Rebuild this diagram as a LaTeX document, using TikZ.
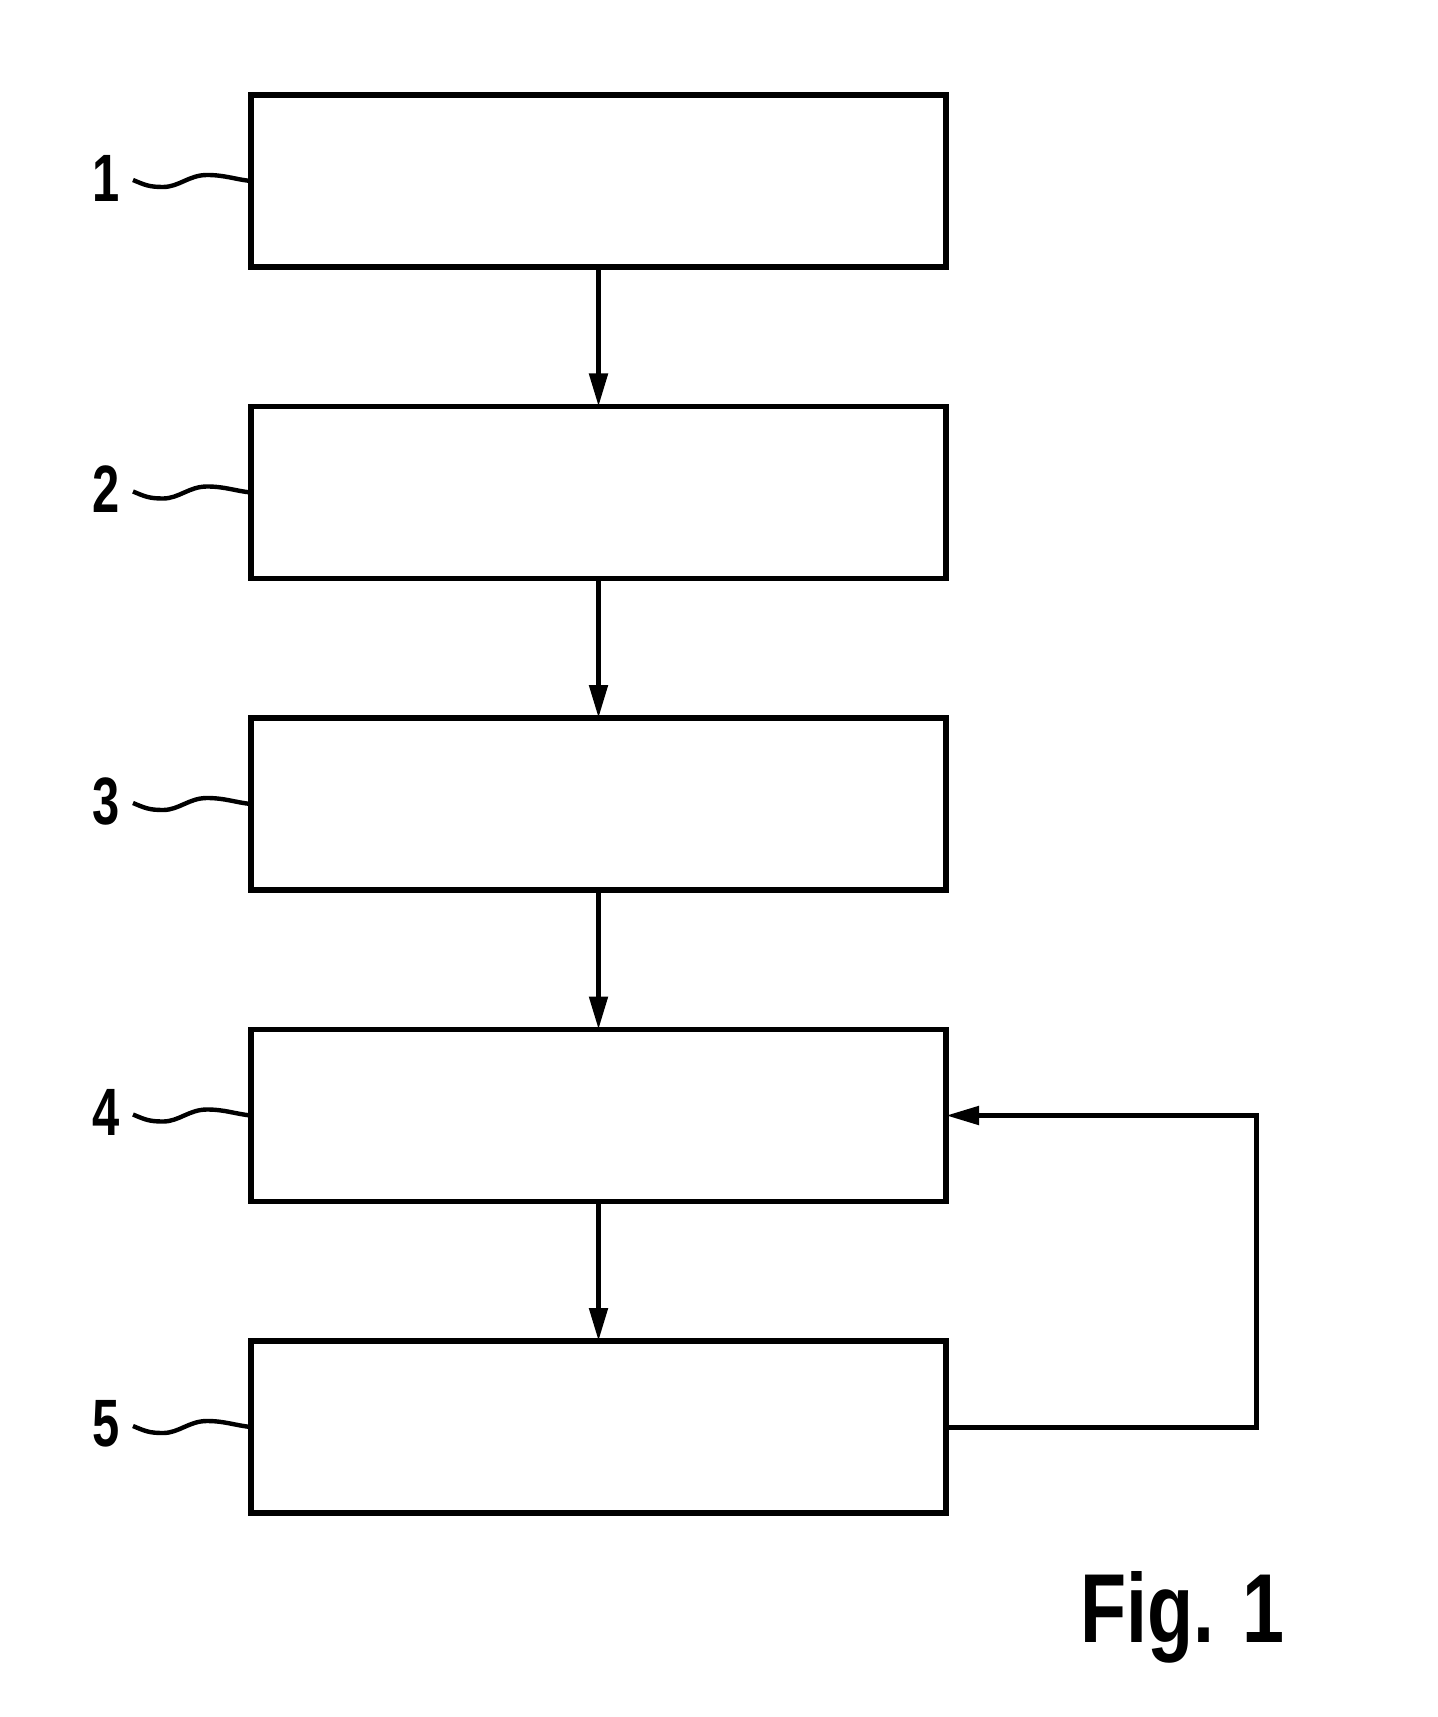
\documentclass[tikz,border=0pt]{standalone}
\usepackage{fontspec}
\setmainfont{Liberation Sans}
\usetikzlibrary{arrows.meta,positioning}

\begin{document}
\begin{tikzpicture}[
	stepbox/.style={
		draw, line width=2.6pt, minimum width=347.5pt, minimum height=86pt,
		outer sep=0pt, inner sep=0pt
	},
	flow/.style={
		line width=2.5pt, -{Triangle[length=16.5pt,width=9pt]}
	},
	lead/.style={line width=2.2pt},
	num/.style={
		anchor=east, inner sep=0pt, font=\bfseries\fontsize{33.5}{33.5}\selectfont
	}
	]
	\useasboundingbox (0,0) rectangle (718.5pt,-858.5pt);

	\node[stepbox] (b1) at (299.25pt,-90.5pt) {};
	\node[stepbox,below=69.75pt of b1] (b2) {};
	\node[stepbox,below=69.75pt of b2] (b3) {};
	\node[stepbox,below=69.75pt of b3] (b4) {};
	\node[stepbox,below=69.75pt of b4] (b5) {};

	\foreach \a/\b in {b1/b2,b2/b3,b3/b4,b4/b5}
	\draw[flow] (\a.south) -- (\b.north);

	% return path
	\draw[flow] (b5.east) -- ++(155.4pt,0) |- (b4.east);

	\foreach \i in {1,...,5}{
		\coordinate (w\i) at ([xshift=-59pt,yshift=0.5pt]b\i.west);
		\draw[lead] (w\i) .. controls +(6pt,-2.5pt) and +(-7pt,0pt) .. ++(15pt,-3.5pt)
			.. controls +(8pt,0pt) and +(-9pt,0pt) .. ++(22pt,6pt)
			.. controls +(9pt,0pt) and +(-8pt,0.8pt) .. (b\i.west);
		\node[num] (n\i) at ([xshift=-6.5pt,yshift=1pt]w\i) {\scalebox{0.73}[1]{\i}};
	}

	\node[anchor=base west, inner sep=0pt, font=\bfseries\fontsize{49}{49}\selectfont]
		(fig) at (540pt,-821pt) {\scalebox{0.77}[1]{Fig. 1}};
\end{tikzpicture}
\end{document}
